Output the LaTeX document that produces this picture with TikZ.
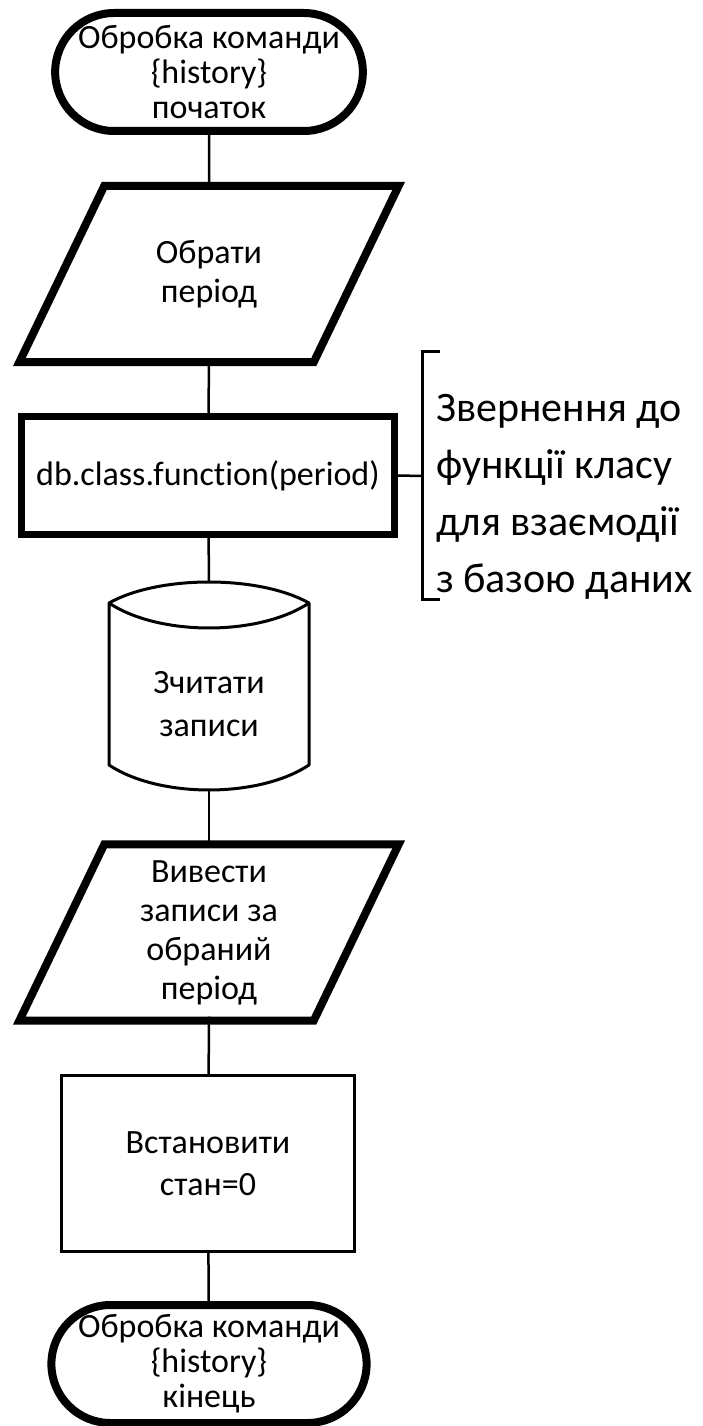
\documentclass[tikz,border=0pt]{standalone}
\usepackage{fontspec}
\setmainfont{Carlito}[Ligatures=NoCommon]
\usetikzlibrary{shapes.misc,positioning}
\tikzset{
  base/.style={align=center, inner sep=0pt, font=\fontsize{34}{40}\selectfont},
  term/.style={base, draw, rounded rectangle, line width=8pt,
    minimum width=292pt, minimum height=118pt, font=\fontsize{34}{35}\selectfont},
  io/.style={base, minimum width=294pt, minimum height=176pt, font=\fontsize{34}{39}\selectfont,
    append after command={\pgfextra{\draw[line width=8pt]
      ([xshift=42.5pt]\tikzlastnode.north west) -- ([xshift=42.5pt]\tikzlastnode.north east)
      -- ([xshift=-42.5pt]\tikzlastnode.south east) -- ([xshift=-42.5pt]\tikzlastnode.south west)
      -- cycle;}}},
  call/.style={base, draw, rectangle, line width=7pt, minimum width=373pt, minimum height=118pt},
  proc/.style={base, draw, rectangle, line width=3pt, minimum width=293pt, minimum height=176pt,
    font=\fontsize{34}{42}\selectfont},
  store/.style={base, font=\fontsize{34}{43}\selectfont},
  link/.style={line width=2.5pt},
  note/.style={align=left, inner sep=0pt, font=\fontsize{42}{57}\selectfont}
}

\begin{document}
\begin{tikzpicture}[x=1pt,y=1pt]
  \useasboundingbox (0,0) rectangle (703,-1426);
  \node[term] (start) at (209,-72) {Обробка команди\\\{history\}\\початок};
  \node[io] (pick) at (209,-274) {Обрати\\період};
  \node[call] (db) at (208,-475.5) {db.class.function(period)};
  \node[store] (read) at (209,-704) {Зчитати\\записи};
  \node[io] (show) at (209,-932.5) {Вивести\\записи за\\обраний\\період};
  \node[proc] (reset) at (208,-1163.5) {Встановити\\стан=0};
  \node[term] (stop) at (209,-1364) {Обробка команди\\\{history\}\\кінець};
  \node[note] (hint) at (436,-497) [anchor=west] {Звернення до\\функції класу\\для взаємодії\\з базою даних};

  % cylinder round the read node
  \coordinate (readtop) at ([yshift=122pt]read.center);
  \coordinate (readbot) at ([yshift=-86pt]read.center);
  \draw[line width=3pt, line join=round]
    ([shift={(-100,101)}]read.center) .. controls ([shift={(-50,129)}]read.center) and ([shift={(50,129)}]read.center) .. ([shift={(100,101)}]read.center)
    .. controls ([shift={(50,67.7)}]read.center) and ([shift={(-50,67.7)}]read.center) .. ([shift={(-100,101)}]read.center)
    -- ([shift={(-100,-61)}]read.center)
    .. controls ([shift={(-50,-94.3)}]read.center) and ([shift={(50,-94.3)}]read.center) .. ([shift={(100,-61)}]read.center)
    -- ([shift={(100,101)}]read.center);

  % bracket for the note
  \coordinate (brtop) at (440,-351);
  \coordinate (brbot) at (440,-599);
  \coordinate (brmid) at (422,-476);
  \draw[line width=3pt] (brtop) -| (brmid) |- (brbot);

  \draw[link] (start) -- ([yshift=-4pt]pick.north);
  \draw[link] ([yshift=4pt]pick.south) -- (db);
  \draw[link] (db) -- (readtop);
  \draw[link] (readbot) -- ([yshift=-4pt]show.north);
  \draw[link] ([yshift=4pt]show.south) -- (reset);
  \draw[link] (reset) -- (stop);
  \draw[link] (db.east) -- (brmid);
\end{tikzpicture}
\end{document}
